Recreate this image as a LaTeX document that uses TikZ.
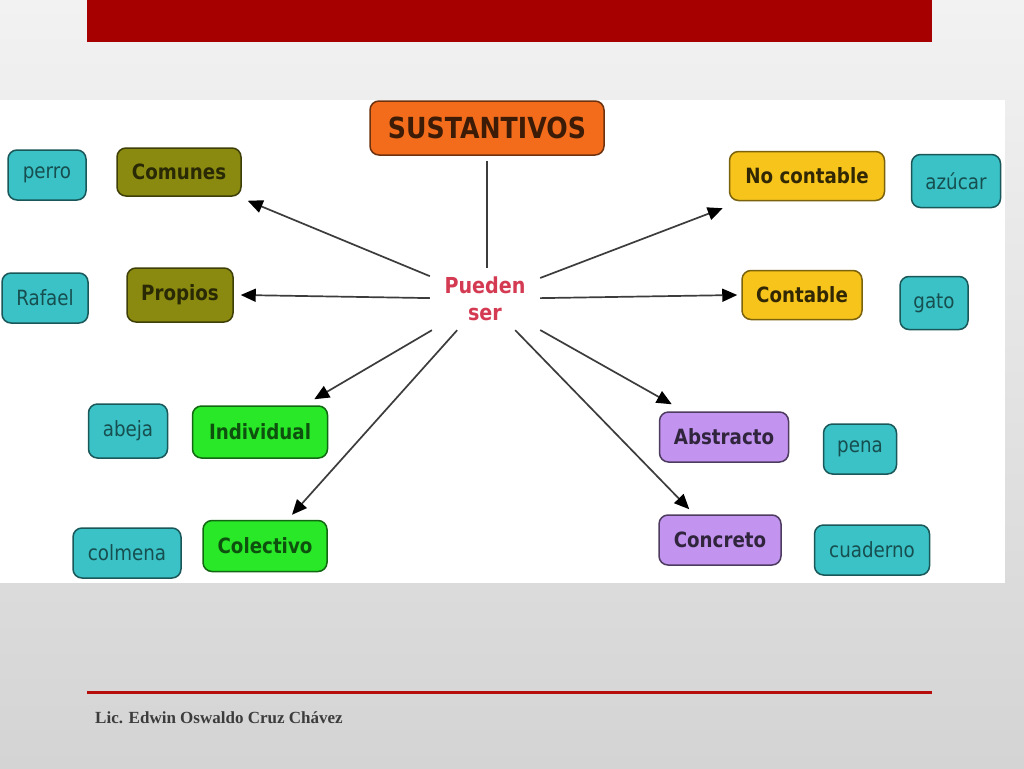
\documentclass[tikz,border=0pt]{standalone}
\usepackage{fontspec}
\usetikzlibrary{arrows.meta}
\newfontfamily\labfont[FakeStretch=0.87]{DejaVu Sans}
\newfontfamily\footfont{Liberation Serif}
\definecolor{bgtop}{RGB}{242,242,242}
\definecolor{bgbot}{RGB}{212,212,212}
\definecolor{barred}{RGB}{166,0,0}
\definecolor{linered}{RGB}{182,12,12}
\definecolor{olivef}{RGB}{138,138,16}
\definecolor{tealf}{RGB}{58,194,198}
\definecolor{yellowf}{RGB}{246,196,26}
\definecolor{greenf}{RGB}{40,232,40}
\definecolor{lavf}{RGB}{194,148,240}
\definecolor{orangef}{RGB}{242,108,28}
\definecolor{puedenc}{RGB}{212,58,82}
\definecolor{arrowc}{RGB}{60,60,60}
\definecolor{footc}{RGB}{60,60,60}
\tikzset{
  box/.style={rectangle, rounded corners=9pt, line width=1.5pt, inner sep=0pt, align=center},
  catbox/.style={box, font=\labfont\bfseries\fontsize{21}{24}\selectfont},
  olivebox/.style={catbox, fill=olivef, draw=olivef!45!black, text=olivef!30!black},
  yellowbox/.style={catbox, fill=yellowf, draw=yellowf!50!black, text=yellowf!20!black},
  greenbox/.style={catbox, fill=greenf, draw=greenf!45!black, text=greenf!35!black},
  lavbox/.style={catbox, fill=lavf, draw=lavf!40!black, text=lavf!25!black},
  examplebox/.style={box, fill=tealf, draw=tealf!45!black, text=tealf!40!black, font=\labfont\fontsize{21}{24}\selectfont},
  topbox/.style={box, fill=orangef, draw=orangef!45!black, text=orangef!25!black, font=\labfont\bfseries\fontsize{29}{32}\selectfont},
  arr/.style={draw=arrowc, line width=1.7pt, -{Triangle[length=15pt,width=13pt,fill=black,color=black]}},
  plain/.style={draw=arrowc, line width=1.7pt}
}
\begin{document}
\begin{tikzpicture}[x=1pt,y=-1pt]
\useasboundingbox (0,0) rectangle (1024,768);
% slide background
\shade[top color=bgtop, bottom color=bgbot] (0,0) rectangle (1024,768);
\fill[barred] (87,0) rectangle (932,42);
% white panel
\fill[white] (0,100) rectangle (1005,583);
% footer
\draw[linered, line width=3pt] (87,692) -- (932,692);
\node[anchor=base west, inner sep=0pt, text=footc, font=\footfont\bfseries\fontsize{17}{20}\selectfont] (foot) at (95,723) {Lic. Edwin Oswaldo Cruz Chávez};

% nodes
\node[topbox, minimum width=234pt, minimum height=54pt] (sus) at (487,128) {SUSTANTIVOS};
\node[rectangle, inner sep=0pt, minimum width=110pt, minimum height=62pt, align=center, text=puedenc,
      font=\labfont\bfseries\fontsize{22}{27}\selectfont] (pu) at (485,299) {Pueden\\ser};

\node[olivebox, minimum width=124pt, minimum height=48pt] (com) at (179,172) {Comunes};
\node[examplebox, minimum width=78pt, minimum height=50pt] (perro) at (47,175) {perro};
\node[olivebox, minimum width=106pt, minimum height=54pt] (pro) at (180,295) {Propios};
\node[examplebox, minimum width=86pt, minimum height=50pt] (rafael) at (45,298) {Rafael};

\node[yellowbox, minimum width=155pt, minimum height=49pt] (nocon) at (807,176) {No contable};
\node[examplebox, minimum width=89pt, minimum height=53pt] (azucar) at (956,181) {azúcar};
\node[yellowbox, minimum width=120pt, minimum height=49pt] (con) at (802,295) {Contable};
\node[examplebox, minimum width=68pt, minimum height=53pt] (gato) at (934,303) {gato};

\node[greenbox, minimum width=135pt, minimum height=52pt] (ind) at (260,432) {Individual};
\node[examplebox, minimum width=79pt, minimum height=54pt] (abeja) at (128,431) {abeja};
\node[greenbox, minimum width=124pt, minimum height=51pt] (col) at (265,546) {Colectivo};
\node[examplebox, minimum width=108pt, minimum height=50pt] (colmena) at (127,553) {colmena};

\node[lavbox, minimum width=129pt, minimum height=50pt] (abs) at (724,437) {Abstracto};
\node[examplebox, minimum width=73pt, minimum height=50pt] (pena) at (860,449) {pena};
\node[lavbox, minimum width=122pt, minimum height=50pt] (conc) at (720,540) {Concreto};
\node[examplebox, minimum width=115pt, minimum height=50pt] (cuad) at (872,550) {cuaderno};

% connectors
\draw[plain] ([yshift=-5pt]sus.south) -- (sus.south |- pu.north);
\draw[arr] (pu) -- ([xshift=6pt,yshift=-4pt]com.south east);
\draw[arr] (pu) -- ([xshift=7pt]pro.east);
\draw[arr] (pu) -- ([xshift=-6pt,yshift=-7pt]nocon.south west);
\draw[arr] (pu) -- ([xshift=-4pt]con.west);
\draw[arr] (pu) -- ([xshift=-14pt,yshift=6pt]ind.north east);
\draw[arr] (pu) -- ([xshift=27pt,yshift=5pt]col.north);
\draw[arr] (pu) -- ([xshift=13pt,yshift=7pt]abs.north west);
\draw[arr] (pu) -- ([xshift=31pt,yshift=5pt]conc.north west);
\end{tikzpicture}
\end{document}
